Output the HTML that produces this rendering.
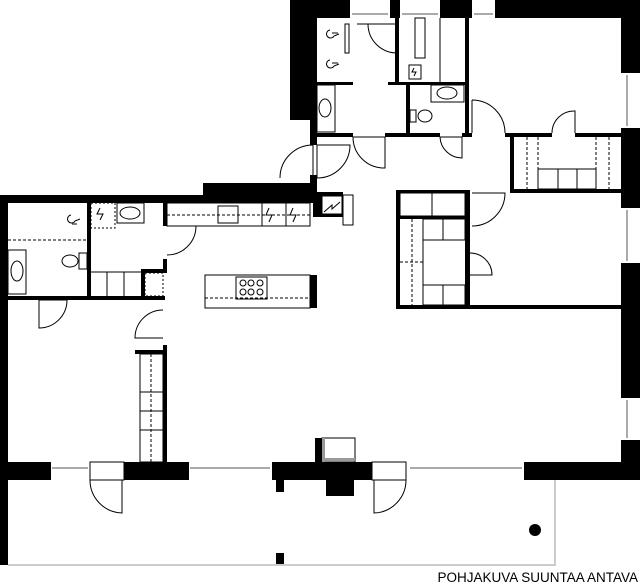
<!DOCTYPE html>
<html><head><meta charset="utf-8"><style>
html,body{margin:0;padding:0;background:#fff;width:640px;height:584px;overflow:hidden}
svg{display:block}
</style></head><body>
<svg width="640" height="584" viewBox="0 0 640 584" xmlns="http://www.w3.org/2000/svg">
<g fill="#000">
<rect x="290" y="0" width="60" height="18"/>
<rect x="390" y="0" width="10" height="18"/>
<rect x="440" y="0" width="32" height="18"/>
<rect x="495" y="0" width="145" height="18"/>
<rect x="290" y="0" width="27" height="120"/>
<rect x="310" y="118" width="7" height="27"/>
<rect x="310" y="175" width="7" height="28"/>
<rect x="621" y="0" width="19" height="73"/>
<rect x="621" y="128" width="19" height="80"/>
<rect x="621" y="263" width="19" height="135"/>
<rect x="621" y="440" width="19" height="40"/>
<rect x="0" y="462" width="51" height="18"/>
<rect x="123" y="462" width="66" height="18"/>
<rect x="272" y="462" width="100" height="18"/>
<rect x="524" y="462" width="116" height="18"/>
<rect x="276" y="480" width="8" height="12"/>
<rect x="326" y="480" width="28" height="16"/>
<rect x="276" y="553" width="8" height="12"/>
<circle cx="535" cy="530" r="6"/>
<rect x="0" y="195" width="315" height="8"/>
<rect x="203" y="183" width="112" height="20"/>
<rect x="0" y="195" width="8" height="370"/>
<rect x="313" y="192" width="30" height="25"/>
<rect x="87" y="202" width="4" height="96"/>
<rect x="8" y="296" width="157" height="4"/>
<rect x="163" y="202" width="4" height="24"/>
<rect x="163" y="259" width="4" height="10"/>
<rect x="141" y="269" width="26" height="4"/>
<rect x="141" y="269" width="4" height="29"/>
<rect x="163" y="345" width="4" height="117"/>
<rect x="135" y="350" width="30" height="4"/>
<rect x="310" y="275" width="7" height="33"/>
<rect x="395" y="18" width="4" height="64"/>
<rect x="317" y="82" width="36" height="3"/>
<rect x="388" y="82" width="78" height="3"/>
<rect x="465" y="18" width="4" height="117"/>
<rect x="406" y="85" width="4" height="48"/>
<rect x="310" y="133" width="43" height="4"/>
<rect x="385" y="133" width="55" height="4"/>
<rect x="462" y="133" width="10" height="4"/>
<rect x="505" y="133" width="47" height="4"/>
<rect x="575" y="133" width="46" height="4"/>
<rect x="510" y="133" width="4" height="59"/>
<rect x="510" y="189" width="111" height="4"/>
<rect x="465" y="190" width="5" height="117"/>
<rect x="396" y="190" width="4" height="119"/>
<rect x="396" y="190" width="74" height="3"/>
<rect x="400" y="216" width="65" height="3"/>
<rect x="396" y="305" width="225" height="4"/>
<rect x="315" y="438" width="7" height="24"/>
</g>
<g fill="none" stroke="#000" stroke-width="1">
<g stroke="#aaa" stroke-width="2">
<line x1="352" y1="14" x2="388" y2="14"/><line x1="402" y1="14" x2="438" y2="14"/><line x1="474" y1="14" x2="493" y2="14"/>
<line x1="627" y1="75" x2="627" y2="126"/><line x1="627" y1="210" x2="627" y2="261"/><line x1="627" y1="400" x2="627" y2="438"/>
<line x1="52" y1="468" x2="88" y2="468"/><line x1="190" y1="468" x2="270" y2="468"/><line x1="410" y1="468" x2="522" y2="468"/>
<polyline points="8,565 555,565 555,480" stroke="#ccc"/>
</g>
<rect x="90" y="462" width="34" height="18" fill="#fff"/>
<path d="M122,480 V513 A33,33 0 0 1 90,480"/>
<rect x="372" y="462" width="34" height="18" fill="#fff"/>
<path d="M374,480 V513 A33,33 0 0 0 406,480"/>
<path d="M397,24 H357 M397,24 V53 A29,29 0 0 1 368,24"/>
<rect x="345" y="24" width="4" height="29"/>
<path d="M353,137 H385 V168 A31,31 0 0 1 353,137"/>
<path d="M440,137 H462 V158 A22,22 0 0 1 440,137"/>
<path d="M472,100 V133 M472,100 A33,33 0 0 1 505,133"/>
<path d="M552,133 A22,22 0 0 1 575,111 V133"/>
<path d="M350,145 A33,33 0 0 1 317,178 V145 Z"/>
<path d="M313,145 A33,33 0 0 0 280,178 M313,145 V175"/>
<path d="M472,193 H505 A33,33 0 0 1 472,226"/>
<path d="M470,253 A22,22 0 0 1 492,275 H470"/>
<path d="M167,226 H196 A29,29 0 0 1 167,255"/>
<path d="M39,300 H67 A28,28 0 0 1 39,328 Z"/>
<path d="M163,310 A28,28 0 0 0 135,338 H163"/>
<rect x="167" y="203" width="143" height="23"/>
<line x1="167" y1="215" x2="310" y2="215" stroke-dasharray="3,2"/>
<rect x="218" y="206" width="20" height="17"/>
<line x1="262" y1="203" x2="262" y2="226"/><line x1="286" y1="203" x2="286" y2="226"/>
<path d="M269,208 l-3,7 h6 l-3,7 M293,208 l-3,7 h6 l-3,7"/>
<rect x="322" y="196" width="20" height="18" fill="#fff"/>
<path d="M324,212 l8,-7 v4 l8,-7"/>
<rect x="343" y="195" width="10" height="30" fill="#fff"/>
<rect x="205" y="275" width="105" height="33"/>
<line x1="205" y1="298" x2="310" y2="298" stroke-dasharray="3,2"/>
<rect x="236" y="277" width="31" height="22"/>
<circle cx="243" cy="283" r="3"/><circle cx="251" cy="283" r="3"/><circle cx="260" cy="283" r="3"/>
<circle cx="243" cy="292" r="3"/><circle cx="251" cy="292" r="3"/><circle cx="260" cy="292" r="3"/>
<line x1="8" y1="240" x2="87" y2="240" stroke-dasharray="3,2"/>
<rect x="8" y="250" width="18" height="44"/>
<ellipse cx="17" cy="271" rx="6" ry="10"/>
<ellipse cx="70" cy="261" rx="8" ry="6"/><rect x="79" y="253" width="8" height="16"/>
<path d="M71,215 a4,4 0 1 0 4,6 l5,-2 M72,224 h5"/>
<rect x="91" y="203" width="24" height="25" stroke-dasharray="2,2"/>
<path d="M100,208 l-3,6 h6 l-3,6"/>
<rect x="117" y="203" width="27" height="20"/>
<ellipse cx="130" cy="213" rx="10" ry="6"/>
<line x1="91" y1="272" x2="141" y2="272"/>
<line x1="107" y1="272" x2="107" y2="296"/><line x1="124" y1="272" x2="124" y2="296"/>
<rect x="145" y="273" width="18" height="23" stroke-dasharray="2,2"/>
<rect x="140" y="354" width="23" height="108"/>
<line x1="151" y1="354" x2="151" y2="462" stroke-dasharray="3,2"/>
<line x1="140" y1="392" x2="163" y2="392"/><line x1="140" y1="411" x2="163" y2="411"/><line x1="140" y1="430" x2="163" y2="430"/>
<rect x="322" y="438" width="33" height="24"/>
<rect x="322" y="438" width="3" height="24" fill="#999" stroke="none"/>
<rect x="322" y="458" width="33" height="3" fill="#999" stroke="none"/>
<path d="M330,30 a4,4 0 1 0 4,6 l5,-2 M332,33 h6 M330,60 a4,4 0 1 0 4,6 l5,-2 M332,63 h6"/>
<rect x="317" y="85" width="18" height="47"/>
<ellipse cx="325" cy="108" rx="6" ry="9"/>
<rect x="415" y="18" width="10" height="40"/><line x1="440" y1="18" x2="440" y2="82"/>
<rect x="409" y="65" width="12" height="14"/><path d="M414,68 l-2,4 h4 l-2,4"/>
<rect x="431" y="85" width="33" height="17"/><ellipse cx="447" cy="93" rx="10" ry="6"/>
<ellipse cx="425" cy="116" rx="7" ry="6"/><rect x="410" y="110" width="6" height="12"/>
<line x1="527" y1="137" x2="527" y2="189" stroke-dasharray="3,2"/><line x1="538" y1="137" x2="538" y2="189" stroke-dasharray="3,2"/>
<line x1="596" y1="137" x2="596" y2="189" stroke-dasharray="3,2"/><line x1="609" y1="137" x2="609" y2="189" stroke-dasharray="3,2"/>
<rect x="538" y="169" width="58" height="20"/><line x1="558" y1="169" x2="558" y2="189"/><line x1="577" y1="169" x2="577" y2="189"/>
<rect x="400" y="193" width="65" height="23"/><line x1="432" y1="193" x2="432" y2="216"/>
<line x1="412" y1="219" x2="412" y2="305" stroke-dasharray="3,2"/>
<line x1="400" y1="262" x2="423" y2="262" stroke-dasharray="3,2"/>
<line x1="423" y1="219" x2="423" y2="305"/>
<rect x="423" y="219" width="42" height="21"/><line x1="443" y1="219" x2="443" y2="240"/>
<rect x="423" y="285" width="42" height="20"/><line x1="443" y1="285" x2="443" y2="305"/>
</g>
<text x="638" y="582" text-anchor="end" font-family="Liberation Sans, sans-serif" font-size="13.5" fill="#000">POHJAKUVA SUUNTAA ANTAVA</text>
</svg>
</body></html>
